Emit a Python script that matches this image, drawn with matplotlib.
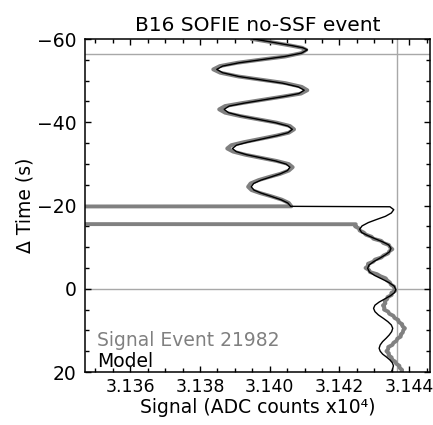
import numpy as np
import matplotlib
matplotlib.use("Agg")
import matplotlib.pyplot as plt
from matplotlib.ticker import MultipleLocator, FuncFormatter

# -------------------------
# Values (signal in ADC counts x10^4, time in s)
# -------------------------
model_time = [-60.0, -59.2, -58.4, -57.9, -57.4, -56.6, -55.8, -55.05, -54.3, -53.5,
              -52.7, -51.9, -51.0, -50.2, -49.4, -48.5, -47.7, -46.9, -46.2, -45.4,
              -44.6, -43.9, -43.1, -42.3, -41.5, -40.7, -39.9, -39.1, -38.3, -37.5,
              -36.8, -36.0, -35.2, -34.5, -33.7, -32.95, -32.2, -31.45, -30.7, -29.95,
              -29.2, -28.4, -27.6, -26.85, -26.1, -25.3, -24.5, -23.7, -23.0, -22.2,
              -21.4, -20.6, -19.8,
              -19.7, -19.0, -18.2, -17.4, -16.65, -15.9, -15.1, -14.3, -13.5, -12.8,
              -12.0, -11.2, -10.5, -9.7, -8.9, -8.1, -7.3, -6.5, -5.7, -4.9,
              -4.05, -3.2, -2.35, -1.5, -0.65, 0.2, 0.95, 1.7, 2.45, 3.2,
              3.95, 4.7, 5.5, 6.3, 7.1, 7.9, 8.7, 9.5, 10.3, 11.1,
              11.9, 12.7, 13.5, 14.3, 15.0, 15.7, 16.4, 17.1, 17.8, 18.5,
              19.5, 20.5]
model_signal = [3.13954, 3.14010, 3.14065, 3.14095, 3.14108, 3.14091, 3.14043, 3.13978, 3.13913, 3.13865,
                3.13848, 3.13865, 3.13911, 3.13974, 3.14036, 3.14082, 3.14099, 3.14084, 3.14042, 3.13984,
                3.13927, 3.13884, 3.13869, 3.13882, 3.13918, 3.13967, 3.14016, 3.14052, 3.14065, 3.14053,
                3.14022, 3.13979, 3.13936, 3.13905, 3.13893, 3.13904, 3.13934, 3.13976, 3.14017, 3.14047,
                3.14058, 3.14051, 3.14030, 3.14003, 3.13975, 3.13954, 3.13947, 3.13955, 3.13975, 3.14004,
                3.14032, 3.14052, 3.14060,
                3.14345, 3.14356, 3.14349, 3.14332, 3.14307, 3.14283, 3.14265, 3.14258, 3.14264, 3.14281,
                3.14303, 3.14326, 3.14342, 3.14348, 3.14344, 3.14331, 3.14315, 3.14298, 3.14285, 3.14281,
                3.14286, 3.14301, 3.14322, 3.14342, 3.14357, 3.14362, 3.14358, 3.14346, 3.14330, 3.14314,
                3.14302, 3.14298, 3.14302, 3.14312, 3.14326, 3.14339, 3.14349, 3.14353, 3.14350, 3.14343,
                3.14334, 3.14324, 3.14317, 3.14314, 3.14317, 3.14324, 3.14335, 3.14345, 3.14352, 3.14355,
                3.14352, 3.14345]

# measured signal; the gap (-19.75 .. -15.55 s) has values below the plotted range
signal_time = [-60.0, -59.2, -58.4, -57.9, -57.4, -56.6, -55.8, -55.05, -54.3, -53.5,
               -52.7, -51.9, -51.0, -50.2, -49.4, -48.5, -47.7, -46.9, -46.2, -45.4,
               -44.6, -43.9, -43.1, -42.3, -41.5, -40.7, -39.9, -39.1, -38.3, -37.5,
               -36.8, -36.0, -35.2, -34.5, -33.7, -32.95, -32.2, -31.45, -30.7, -29.95,
               -29.2, -28.4, -27.6, -26.85, -26.1, -25.3, -24.5, -23.7, -23.0, -22.2,
               -21.4, -20.6, -19.8,
               -19.75, -15.55,
               -15.5, -15.0, -14.5, -14.0, -13.5, -13.0, -12.5, -12.0, -11.5, -11.0,
               -10.5, -10.0, -9.5, -9.0, -8.5, -8.0, -7.5, -7.0, -6.5, -6.0,
               -5.5, -5.0, -4.5, -4.0, -3.5, -3.0, -2.5, -2.0, -1.5, -1.0,
               -0.5, 0.0, 0.5, 1.0, 1.5, 2.0, 2.5, 3.0, 3.5, 4.0,
               4.5, 5.0, 5.5, 6.0, 6.5, 7.0, 7.5, 8.0, 8.5, 9.0,
               9.5, 10.0, 10.5, 11.0, 11.5, 12.0, 12.5, 13.0, 13.5, 14.0,
               14.5, 15.0, 15.5, 16.0, 16.5, 17.0, 17.5, 18.0, 18.5, 19.0,
               19.5, 20.0, 20.5, 21.0]
signal_value = [3.13950, 3.14008, 3.14062, 3.14093, 3.14105, 3.14090, 3.14045, 3.13975, 3.13908, 3.13857,
                3.13838, 3.13858, 3.13910, 3.13978, 3.14045, 3.14092, 3.14108, 3.14090, 3.14040, 3.13980,
                3.13920, 3.13872, 3.13855, 3.13872, 3.13915, 3.13968, 3.14020, 3.14058, 3.14070, 3.14055,
                3.14020, 3.13972, 3.13925, 3.13890, 3.13878, 3.13895, 3.13930, 3.13975, 3.14020, 3.14055,
                3.14066, 3.14055, 3.14030, 3.13998, 3.13968, 3.13945, 3.13938, 3.13948, 3.13972, 3.14005,
                3.14035, 3.14055, 3.14062,
                3.13000, 3.13000,
                3.14247, 3.14245, 3.14256, 3.14258, 3.14270, 3.14276, 3.14292, 3.14298, 3.14320, 3.14326,
                3.14342, 3.14345, 3.14352, 3.14343, 3.14340, 3.14327, 3.14320, 3.14302, 3.14297, 3.14282,
                3.14283, 3.14275, 3.14285, 3.14288, 3.14308, 3.14318, 3.14333, 3.14337, 3.14345, 3.14348,
                3.14357, 3.14358, 3.14360, 3.14349, 3.14350, 3.14338, 3.14337, 3.14330, 3.14332, 3.14325,
                3.14329, 3.14328, 3.14340, 3.14343, 3.14355, 3.14358, 3.14369, 3.14370, 3.14380, 3.14381,
                3.14388, 3.14383, 3.14382, 3.14376, 3.14376, 3.14366, 3.14364, 3.14355, 3.14352, 3.14340,
                3.14340, 3.14335, 3.14342, 3.14341, 3.14350, 3.14350, 3.14360, 3.14363, 3.14372, 3.14373,
                3.14380, 3.14378, 3.14385, 3.14383]

# reference lines
ref_times = [-56.3, 0.0]
ref_signal = 3.14365

plt.rcParams['font.family'] = ['DejaVu Sans']
FS = 13.5

fig = plt.figure(figsize=(4.33, 4.25), dpi=100)
ax = fig.add_axes([0.1963, 0.1247, 0.7968, 0.7835])

for t in ref_times:
    ax.axhline(t, color='#a8a8a8', lw=1.0, zorder=1)
ax.axvline(ref_signal, color='#a8a8a8', lw=1.0, zorder=1)

ax.plot(signal_value, signal_time, color='#808080', lw=2.8, zorder=2,
        solid_joinstyle='round')
ax.plot(model_signal, model_time, color='black', lw=1.0, zorder=3)

ax.set_xlim(3.1347, 3.1446)
ax.set_ylim(20, -60)

ax.xaxis.set_major_locator(MultipleLocator(0.002))
ax.xaxis.set_minor_locator(MultipleLocator(0.0005))
ax.xaxis.set_major_formatter(FuncFormatter(lambda v, p: f"{v:.3f}"))
ax.yaxis.set_major_locator(MultipleLocator(20))
ax.yaxis.set_minor_locator(MultipleLocator(5))
ax.yaxis.set_major_formatter(FuncFormatter(lambda v, p: f"{v:.0f}".replace("-", "\u2212")))

ax.tick_params(which='both', direction='in', top=True, right=True,
               labelsize=12.5, width=1.0)
ax.tick_params(axis='y', labelsize=FS)
ax.tick_params(which='major', length=4)
ax.tick_params(which='minor', length=3)
ax.tick_params(axis='y', pad=6)
ax.tick_params(axis='x', pad=4)
for s in ax.spines.values():
    s.set_linewidth(1.1)

ax.set_title("B16 SOFIE no-SSF event", fontsize=14.5, pad=6)
ax.set_xlabel("Signal (ADC counts x10\u2074)", fontsize=FS, labelpad=2)
ax.set_ylabel("\u0394 Time (s)", fontsize=FS, labelpad=2)

ax.text(0.035, 0.096, "Signal Event 21982", transform=ax.transAxes,
        color='#808080', fontsize=FS, va='center', ha='left')
ax.text(0.035, 0.033, "Model", transform=ax.transAxes,
        color='black', fontsize=FS, va='center', ha='left')

fig.savefig("out.png", dpi=100)
